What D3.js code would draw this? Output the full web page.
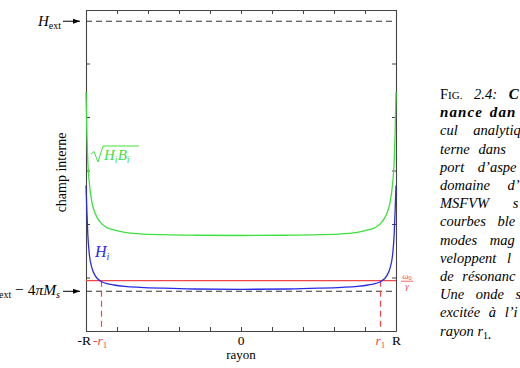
<!DOCTYPE html>
<html><head><meta charset="utf-8">
<script src="https://cdn.jsdelivr.net/npm/d3@7"></script>
<style>body{margin:0;background:#fff;overflow:hidden} svg{display:block}</style>
</head><body>
<script>
// ---- data ----
const radius = [-1, -0.994, -0.988, -0.978, -0.962, -0.94, -0.91, -0.87, -0.82, -0.75, -0.65, -0.5, -0.3, 0,
                0.3, 0.5, 0.65, 0.75, 0.82, 0.87, 0.91, 0.94, 0.962, 0.978, 0.988, 0.994, 1];
const fieldHi = [2.72, 2.22, 1.79, 1.42, 1.18, 1.03, 0.94, 0.89, 0.86, 0.835, 0.817, 0.80, 0.785, 0.778,
                 0.785, 0.80, 0.817, 0.835, 0.86, 0.89, 0.94, 1.03, 1.18, 1.42, 1.79, 2.22, 2.72];
const fieldSqrtHiBi = [4.47, 3.66, 3.14, 2.75, 2.41, 2.19, 2.04, 1.94, 1.89, 1.845, 1.817, 1.80, 1.79, 1.785,
                       1.79, 1.80, 1.817, 1.845, 1.89, 1.94, 2.04, 2.19, 2.41, 2.75, 3.14, 3.66, 4.47];
const levelHext = 5.79;
const levelHextMinus4piMs = 0.742;
const levelOmegaGamma = 0.94;
const r1 = 0.9;
const xTicks = [-1, -0.8, -0.6, -0.4, -0.2, 0, 0.2, 0.4, 0.6, 0.8, 1];
const yTicks = [0, 1, 2, 3, 4, 5, 6];
const xTickLabels = ["-R", "0", "R"];
const xTickLabelValues = [-1, 0, 1];
const captionLines = [
  [{t:"F",s:"n"},{t:"IG.",s:"sc"},{t:" 2.4: ",s:"i"},{t:"C",s:"b"}],
  [{t:"nance dan",s:"b"}],
  [{t:"cul analytiq",s:"i"}],
  [{t:"terne dans",s:"i"}],
  [{t:"port d’aspe",s:"i"}],
  [{t:"domaine d’",s:"i"}],
  [{t:"MSFVW s",s:"i"}],
  [{t:"courbes ble",s:"i"}],
  [{t:"modes mag",s:"i"}],
  [{t:"veloppent l",s:"i"}],
  [{t:"de résonanc",s:"i"}],
  [{t:"Une onde s",s:"i"}],
  [{t:"excitée à l’i",s:"i"}],
  [{t:"rayon r",s:"i"},{t:"1",s:"sub"},{t:".",s:"i"}]
];
// justification (word spacing, px) of each caption line
const captionWordSpacing = [8, 2, 12, 5, 10, 14, 20, 8, 9, 7, 5, 8, 5, 0];

// ---- drawing ----
const W = 520, H = 368;
const serif = "'Liberation Serif', 'DejaVu Serif', serif";
const cBlue = "#2a2ae6", cGreen = "#3ee03e", cRed = "#f04848", cAxis = "#444";
const svg = d3.select("body").append("svg").attr("width", W).attr("height", H)
  .style("font-family", serif);

const x = d3.scaleLinear().domain([-1, 1]).range([86, 396]);
const y = d3.scaleLinear().domain([0, 6]).range([331, 10]);

svg.append("defs").append("marker").attr("id", "arr").attr("viewBox", "0 0 10 10")
  .attr("refX", 10).attr("refY", 5).attr("markerWidth", 7).attr("markerHeight", 7)
  .attr("markerUnits", "userSpaceOnUse").attr("orient", "auto")
  .append("path").attr("d", "M0,1.5 L10,5 L0,8.5 Z").attr("fill", "#000");

// axes (inward ticks, frame)
function styleAxis(g) {
  g.selectAll("path.domain").attr("stroke", cAxis).attr("stroke-width", 1.1);
  g.selectAll(".tick line").attr("stroke", cAxis).attr("stroke-width", 1);
  g.selectAll(".tick text").remove();
}
svg.append("g").attr("transform", `translate(0,${y(0)})`)
  .call(d3.axisBottom(x).tickValues(xTicks).tickSize(-4).tickSizeOuter(0)).call(styleAxis);
svg.append("g").attr("transform", `translate(0,${y(6)})`)
  .call(d3.axisTop(x).tickValues(xTicks).tickSize(-4).tickSizeOuter(0)).call(styleAxis);
svg.append("g").attr("transform", `translate(${x(-1)},0)`)
  .call(d3.axisLeft(y).tickValues(yTicks).tickSize(-4).tickSizeOuter(0)).call(styleAxis);
svg.append("g").attr("transform", `translate(${x(1)},0)`)
  .call(d3.axisRight(y).tickValues(yTicks).tickSize(-4).tickSizeOuter(0)).call(styleAxis);

// dashed reference levels
[levelHext, levelHextMinus4piMs].forEach(v => {
  svg.append("line").attr("x1", x(-1)).attr("x2", x(1)).attr("y1", y(v)).attr("y2", y(v))
    .attr("stroke", "#333").attr("stroke-width", 1.1).attr("stroke-dasharray", "6,4");
});

// omega/gamma level and r1 verticals
svg.append("line").attr("x1", x(-1)).attr("x2", x(1)).attr("y1", y(levelOmegaGamma)).attr("y2", y(levelOmegaGamma))
  .attr("stroke", cRed).attr("stroke-width", 1.2);
[-r1, r1].forEach(v => {
  svg.append("line").attr("x1", x(v)).attr("x2", x(v)).attr("y1", y(levelOmegaGamma)).attr("y2", y(0))
    .attr("stroke", cRed).attr("stroke-width", 1.2).attr("stroke-dasharray", "6,4");
});

// curves
const pts = (vals) => radius.map((r, i) => [r, vals[i]]);
const line = d3.line().x(d => x(d[0])).y(d => y(d[1])).curve(d3.curveMonotoneX);
svg.append("path").attr("d", line(pts(fieldSqrtHiBi))).attr("fill", "none")
  .attr("stroke", cGreen).attr("stroke-width", 1.3);
svg.append("path").attr("d", line(pts(fieldHi))).attr("fill", "none")
  .attr("stroke", cBlue).attr("stroke-width", 1.3);

// x tick labels
const tl = svg.append("g").attr("font-size", 13.5);
xTickLabels.forEach((t, i) => {
  const v = xTickLabelValues[i];
  const anchor = v < 0 ? "end" : (v > 0 ? "start" : "middle");
  const xx = v < 0 ? x(v) + 5 : (v > 0 ? x(v) - 4 : x(v));
  tl.append("text").attr("x", xx).attr("y", 345).attr("text-anchor", anchor).text(t);
});
// red r1 labels
const rl = tl.append("text").attr("x", x(-r1) - 8.5).attr("y", 345).attr("fill", cRed);
rl.append("tspan").text("-");
rl.append("tspan").attr("font-style", "italic").text("r");
rl.append("tspan").attr("font-size", 9).attr("dy", 3).text("1");
const rr = tl.append("text").attr("x", x(r1) - 5).attr("y", 345).attr("fill", cRed);
rr.append("tspan").attr("font-style", "italic").text("r");
rr.append("tspan").attr("font-size", 9).attr("dy", 3).text("1");

// axis titles
svg.append("text").attr("x", x(0)).attr("y", 359).attr("text-anchor", "middle")
  .attr("font-size", 13).text("rayon");
svg.append("text").attr("transform", `translate(66,${y(3) + 2}) rotate(-90)`).attr("text-anchor", "middle")
  .attr("font-size", 14).text("champ interne");

// Hext annotation
const hx = svg.append("text").attr("x", 38).attr("y", 26).attr("font-size", 15);
hx.append("tspan").attr("font-style", "italic").text("H");
hx.append("tspan").attr("font-size", 10).attr("dy", 3).text("ext");
svg.append("line").attr("x1", 63).attr("x2", 80).attr("y1", y(levelHext)).attr("y2", y(levelHext))
  .attr("stroke", "#000").attr("stroke-width", 1).attr("marker-end", "url(#arr)");

// Hext - 4piMs annotation
const hm = svg.append("text").attr("x", 60).attr("y", y(levelHextMinus4piMs) + 4).attr("text-anchor", "end").attr("font-size", 15.5);
hm.append("tspan").attr("font-style", "italic").text("H");
hm.append("tspan").attr("font-size", 10).attr("dy", 3).text("ext");
hm.append("tspan").attr("dy", -3).text(" − 4");
hm.append("tspan").attr("font-style", "italic").text("πM");
hm.append("tspan").attr("font-style", "italic").attr("font-size", 10).attr("dy", 3).text("s");
svg.append("line").attr("x1", 63).attr("x2", 80).attr("y1", y(levelHextMinus4piMs)).attr("y2", y(levelHextMinus4piMs))
  .attr("stroke", "#000").attr("stroke-width", 1).attr("marker-end", "url(#arr)");

// curve labels
const gl = svg.append("g").attr("fill", cGreen);
gl.append("path").attr("d", "M91,154 L94,151.5 L98,162 L103,146 L139,146")
  .attr("fill", "none").attr("stroke", cGreen).attr("stroke-width", 1);
const gt = gl.append("text").attr("x", 104).attr("y", 160).attr("font-size", 15).attr("font-style", "italic");
gt.append("tspan").text("H");
gt.append("tspan").attr("font-size", 10).attr("dy", 3).text("i");
gt.append("tspan").attr("dy", -3).text("B");
gt.append("tspan").attr("font-size", 10).attr("dy", 3).text("i");

const bt = svg.append("text").attr("x", 95).attr("y", 257).attr("font-size", 16).attr("font-style", "italic").attr("fill", cBlue);
bt.append("tspan").text("H");
bt.append("tspan").attr("font-size", 10).attr("dy", 3).text("i");

// omega0/gamma fraction
const fr = svg.append("g").attr("fill", cRed).attr("font-size", 9);
const om = fr.append("text").attr("x", 407).attr("y", y(levelOmegaGamma) - 2).attr("text-anchor", "middle").attr("font-style", "italic");
om.append("tspan").text("ω");
om.append("tspan").attr("font-size", 6.5).attr("font-style", "normal").attr("dy", 1.5).text("0");
fr.append("line").attr("x1", 401).attr("x2", 413).attr("y1", y(levelOmegaGamma) + 0.5).attr("y2", y(levelOmegaGamma) + 0.5)
  .attr("stroke", cRed).attr("stroke-width", 0.8);
fr.append("text").attr("x", 407).attr("y", y(levelOmegaGamma) + 8).attr("text-anchor", "middle").attr("font-style", "italic").text("γ");

// caption
const cap = svg.append("g").attr("font-size", 14.5);
captionLines.forEach((segs, k) => {
  const t = cap.append("text").attr("x", 440).attr("y", 99 + 18.2 * k)
    .attr("word-spacing", captionWordSpacing[k]).attr("xml:space", "preserve");
  segs.forEach(s => {
    const sp = t.append("tspan").text(s.t);
    if (s.s === "i") sp.attr("font-style", "italic");
    if (s.s === "b") sp.attr("font-style", "italic").attr("font-weight", "bold").attr("letter-spacing", 1.1).attr("font-size", 15);
    if (s.s === "sc") sp.attr("font-size", 11);
    if (s.s === "sub") sp.attr("font-size", 10).attr("dy", 3);
  });
});
</script>
</body></html>
